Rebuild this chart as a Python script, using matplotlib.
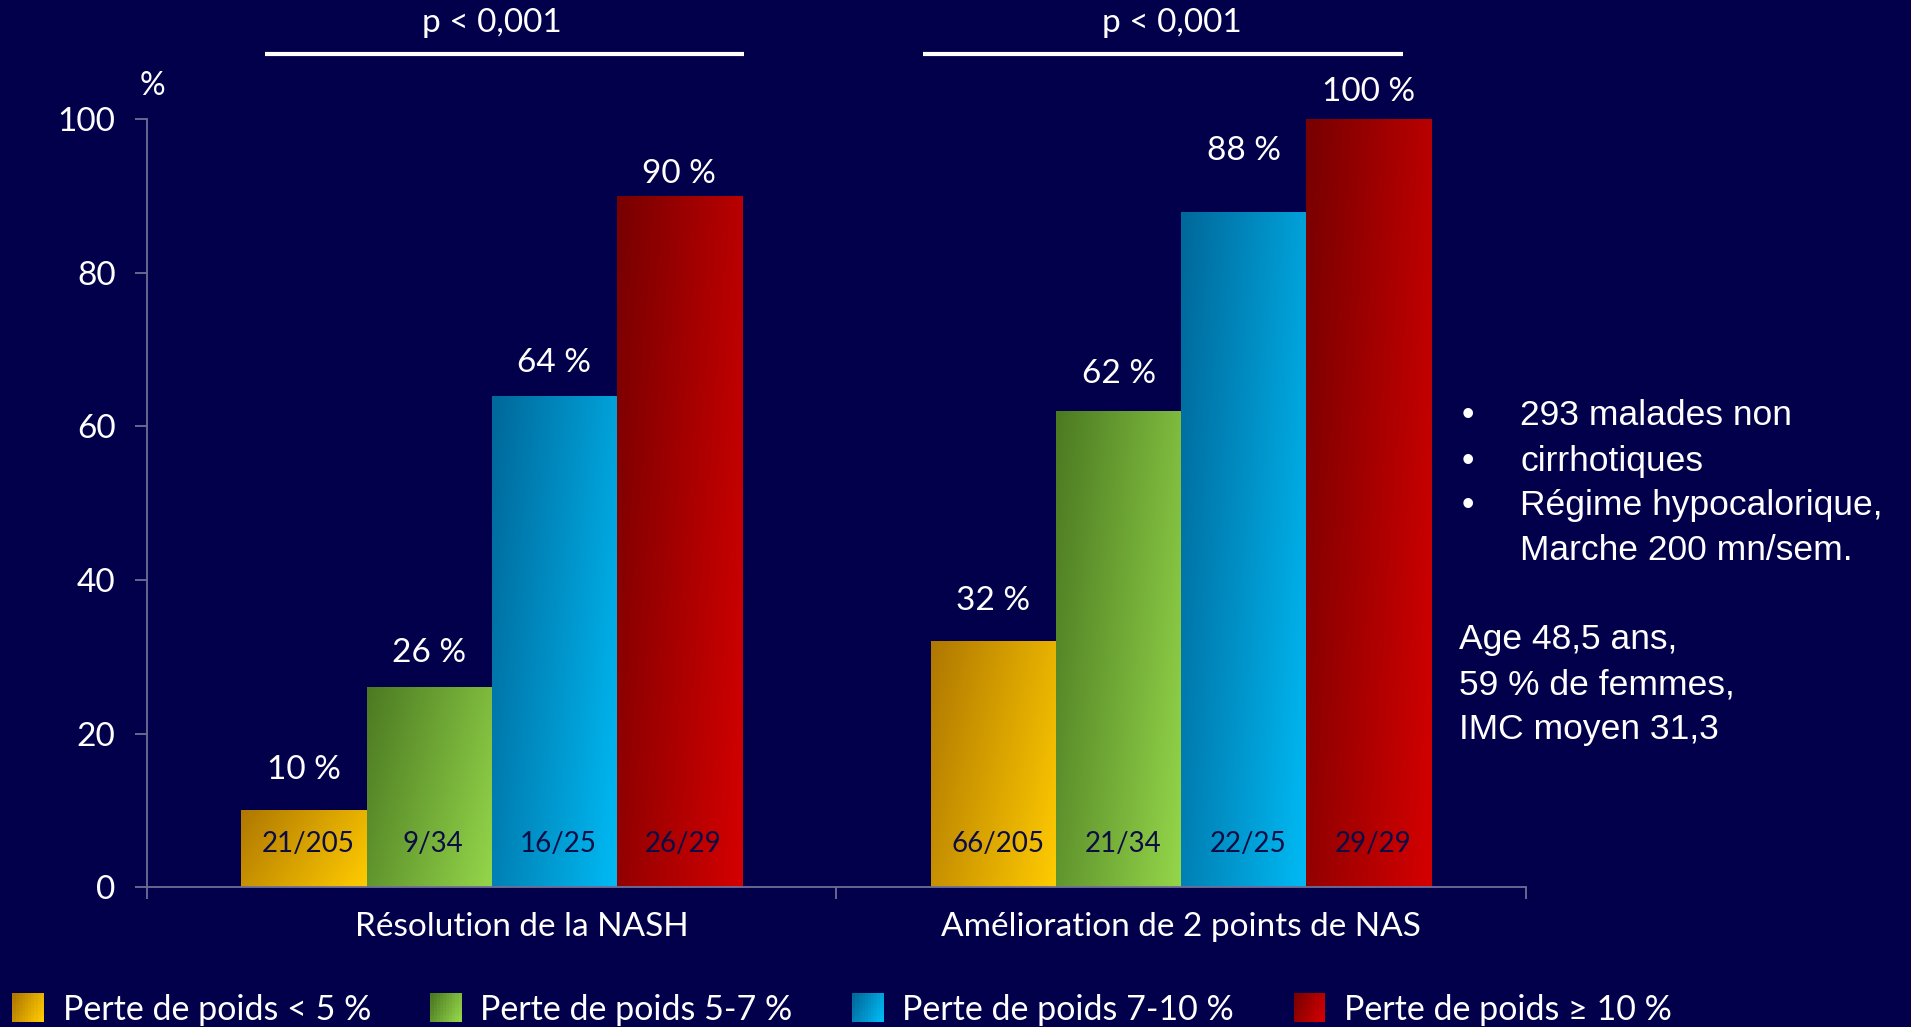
import numpy as np
import matplotlib
matplotlib.use('Agg')
import matplotlib.pyplot as plt
from matplotlib.colors import to_rgb
from matplotlib.patches import Rectangle, Patch
from matplotlib.legend_handler import HandlerBase
from matplotlib.transforms import ScaledTranslation

categories = ['Résolution de la NASH', 'Amélioration de 2 points de NAS']
series = ['Perte de poids < 5 %', 'Perte de poids 5-7 %', 'Perte de poids 7-10 %', 'Perte de poids ≥ 10 %']
pct_nash = [10, 26, 64, 90]
pct_nas = [32, 62, 88, 100]
counts_nash = ['21/205', '9/34', '16/25', '26/29']
counts_nas = ['66/205', '21/34', '22/25', '29/29']
p_values = ['p < 0,001', 'p < 0,001']
notes_bullets = ['293 malades non', 'cirrhotiques', 'Régime hypocalorique,']
notes_cont = 'Marche 200 mn/sem.'
notes_extra = ['Age 48,5 ans,', '59 % de femmes,', 'IMC moyen 31,3']

BG = '#03004B'
DARK = ['#B07800', '#4C7A22', '#00689A', '#780000']
LIGHT = ['#FFCB00', '#94D64A', '#00BAF4', '#D40000']
LABEL_INK = '#0D0D45'
AXIS = '#6E6E96'
CAL = 'Lato'
ARIAL = 'Liberation Sans'

# value-label gaps above each bar (points), as laid out on the slide
label_pad = [[18, 14, 13, 5], [18, 16, 33, 9]]
# significance bar ends, relative to each group centre
sig_span = [(-0.329, 0.366), (-0.374, 0.322)]
sig_text_dx = [0.0, -0.013]


def gradient(c0, c1, rows, cols):
    # rows run top -> bottom: dark at the top-left, light at the bottom-right
    u = np.linspace(0, 1, cols)[None, :]
    v = np.linspace(0, 1, rows)[:, None]
    t = np.clip(0.7 * u + 0.3 * v, 0, 1)[..., None]
    a, b = np.array(to_rgb(c0)), np.array(to_rgb(c1))
    return a * (1 - t) + b * t


class GradientSquare(HandlerBase):
    def __init__(self, c0, c1, n=10):
        super().__init__()
        self.c0, self.c1, self.n = c0, c1, n

    def create_artists(self, legend, orig_handle, xdescent, ydescent,
                       width, height, fontsize, trans):
        g = gradient(self.c0, self.c1, self.n, self.n)
        cw, ch = width / self.n, height / self.n
        arts = []
        for r in range(self.n):
            for c in range(self.n):
                arts.append(Rectangle((-xdescent + c * cw, -ydescent + r * ch),
                                      cw * 1.02, ch * 1.02,
                                      facecolor=g[self.n - 1 - r, c],
                                      linewidth=0, antialiased=False, transform=trans))
        return arts


fig = plt.figure(figsize=(19.11, 10.27), dpi=100, facecolor=BG)
ax = fig.add_axes([0.0769, 0.1363, 0.7216, 0.7474])
ax.set_facecolor(BG)

values = np.array([pct_nash, pct_nas])
counts = [counts_nash, counts_nas]
x = np.arange(len(categories))
bw = 0.1815
for i in range(len(series)):
    bars = ax.bar(x + (i - 1.5) * bw, values[:, i], bw, facecolor='none',
                  edgecolor='none', zorder=2)
    for j, rect in enumerate(bars):
        x0, h = rect.get_x(), rect.get_height()
        img = ax.imshow(gradient(DARK[i], LIGHT[i], 64, 32), origin='upper',
                        extent=(x0, x0 + bw, 0, h), aspect='auto',
                        interpolation='bilinear', zorder=2)
        img.set_clip_path(rect)
        ax.annotate(counts[j][i], xy=(x0 + bw / 2, 5.6), xytext=(3, 0),
                    textcoords='offset points', ha='center', va='center',
                    color=LABEL_INK, fontsize=20, family=CAL, zorder=3)
        ax.annotate(f'{values[j, i]} %', xy=(x0 + bw / 2, h),
                    xytext=(0, label_pad[j][i]), textcoords='offset points',
                    ha='center', va='bottom', color='white', fontsize=24,
                    family=CAL, annotation_clip=False)

ax.set_xlim(-0.5, 1.5)
ax.set_ylim(0, 100)
for s in ('top', 'right'):
    ax.spines[s].set_visible(False)
for s in ('left', 'bottom'):
    ax.spines[s].set_color(AXIS)
    ax.spines[s].set_linewidth(1.3)

ax.set_yticks(range(0, 101, 20))
ax.tick_params(axis='y', length=8.6, width=1.3, color=AXIS, pad=14,
               labelsize=24, labelcolor='white')
for t in ax.get_yticklabels():
    t.set_family(CAL)
ax.set_xticks([-0.5, 0.5, 1.5])
ax.set_xticklabels([])
ax.tick_params(axis='x', which='major', length=8.6, width=1.3, color=AXIS)
ax.set_xticks(x, minor=True)
ax.set_xticklabels(categories, minor=True)
ax.tick_params(axis='x', which='minor', length=0, pad=18, labelsize=24,
               labelcolor='white')
for k, t in enumerate(ax.get_xticklabels(minor=True)):
    t.set_family(CAL)
    if k == 0:
        t.set_transform(t.get_transform() + ScaledTranslation(0.3, 0, fig.dpi_scale_trans))

ax.annotate('%', xy=(0.004, 104.3), xycoords=('axes fraction', 'data'),
            ha='center', va='center', color='white', fontsize=23, family=CAL,
            annotation_clip=False)

# significance bars above each group
for j, p in enumerate(p_values):
    lo, hi = sig_span[j]
    ax.plot([x[j] + lo, x[j] + hi], [108.5, 108.5], color='white', linewidth=3,
            clip_on=False, solid_capstyle='butt')
    ax.text(x[j] + sig_text_dx[j], 112.5, p, ha='center', va='center',
            color='white', fontsize=24, family=CAL, clip_on=False)

# study notes on the right
NOTE_SIZE = 25.5
for k, line in enumerate(notes_bullets):
    yy = 1 - (416 + 45 * k) / 1027
    fig.text(1462 / 1911, yy, '•', ha='left', va='center', color='white',
             fontsize=NOTE_SIZE, family=ARIAL)
    fig.text(1520 / 1911, yy, line, ha='left', va='center', color='white',
             fontsize=NOTE_SIZE, family=ARIAL)
fig.text(1520 / 1911, 1 - 551 / 1027, notes_cont, ha='left', va='center',
         color='white', fontsize=NOTE_SIZE, family=ARIAL)
for k, line in enumerate(notes_extra):
    fig.text(1459 / 1911, 1 - (640 + 45 * k) / 1027, line, ha='left', va='center',
             color='white', fontsize=NOTE_SIZE, family=ARIAL)

handles = [Patch(label=s) for s in series]
leg = fig.legend(handles=handles, loc='center', bbox_to_anchor=(0.4406, 0.017),
                 ncol=4, frameon=False, handlelength=0.92, handleheight=0.92,
                 handletextpad=0.55, columnspacing=1.75,
                 prop={'family': CAL, 'size': 24.5},
                 handler_map={h: GradientSquare(DARK[i], LIGHT[i])
                              for i, h in enumerate(handles)})
for t in leg.get_texts():
    t.set_color('white')

fig.savefig('out.png', dpi=100, facecolor=BG)
